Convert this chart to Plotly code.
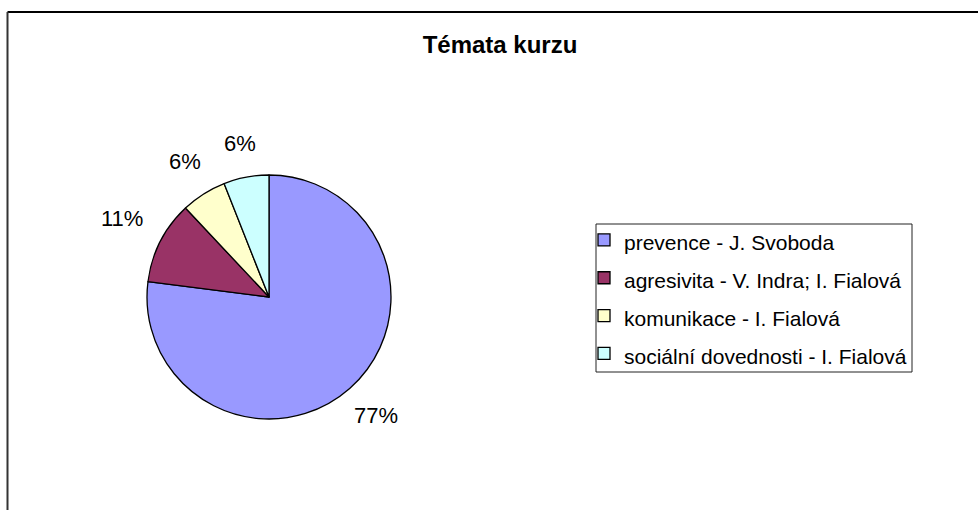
import math
import plotly.graph_objects as go

# Data
categories = [
    "prevence - J. Svoboda",
    "agresivita - V. Indra; I. Fialová",
    "komunikace - I. Fialová",
    "sociální dovednosti - I. Fialová",
]
values = [77, 11, 6, 6]
colors = ["#9999FF", "#993366", "#FFFFCC", "#CCFFFF"]
title_text = "Témata kurzu"

W, H = 978, 510
FONT = "Liberation Sans, Arial, sans-serif"

# pie geometry (pixels)
CX, CY, R = 269, 297, 122
LABEL_FS = 22
GAP = 20

legend_labels = ['<span style="font-size:21px">%s</span>' % c for c in categories]

fig = go.Figure(
    go.Pie(
        labels=legend_labels,
        values=values,
        sort=False,
        direction="clockwise",
        rotation=0,
        marker=dict(colors=colors, line=dict(color="black", width=1.3)),
        textinfo="none",
        domain=dict(x=[(CX - R) / W, (CX + R) / W], y=[1 - (CY + R) / H, 1 - (CY - R) / H]),
        hoverinfo="label+percent",
    )
)

# percentage labels placed outside each slice, derived from the values
total = sum(values)
annotations = []
cum = 0.0
for v in values:
    mid = (cum + v / 2.0) / total * 2 * math.pi
    cum += v
    pct = "%d%%" % round(100.0 * v / total)
    sx, sy = math.sin(mid), -math.cos(mid)
    w = LABEL_FS * (0.556 * (len(pct) - 1) + 0.889)
    h = LABEL_FS * 0.72
    dist = R + GAP + abs(sx) * w / 2 + abs(sy) * h / 2
    px, py = CX + dist * sx, CY + dist * sy - 3
    annotations.append(dict(
        x=px / W, y=1 - py / H, xref="paper", yref="paper",
        text=pct, showarrow=False, xanchor="center", yanchor="middle",
        font=dict(family=FONT, size=LABEL_FS, color="black"),
    ))

fig.update_layout(
    width=W,
    height=H,
    margin=dict(l=0, r=0, t=0, b=0),
    paper_bgcolor="white",
    plot_bgcolor="white",
    font=dict(family=FONT, color="black"),
    title=dict(
        text="<b>%s</b>" % title_text,
        x=500 / W,
        xanchor="center",
        y=1 - 45 / H,
        yanchor="middle",
        font=dict(family=FONT, size=24, color="black"),
    ),
    showlegend=True,
    legend=dict(
        x=584 / W,
        y=1 - 216 / H,
        xanchor="left",
        yanchor="top",
        borderwidth=0,
        bgcolor="rgba(0,0,0,0)",
        font=dict(family=FONT, size=26.8, color="black"),
        traceorder="normal",
    ),
    annotations=annotations,
    shapes=[
        # chart frame
        dict(type="line", xref="paper", yref="paper",
             x0=7.5 / W, x1=1.05, y0=1 - 12 / H, y1=1 - 12 / H,
             line=dict(color="black", width=2)),
        dict(type="line", xref="paper", yref="paper",
             x0=7.5 / W, x1=7.5 / W, y0=1 - 12 / H, y1=-0.05,
             line=dict(color="#333333", width=2)),
        # legend box
        dict(type="rect", xref="paper", yref="paper",
             x0=596 / W, x1=912 / W, y0=1 - 372 / H, y1=1 - 224 / H,
             line=dict(color="#222222", width=1), layer="below"),
    ],
)

fig.write_html(
    "out.html",
    config={"displayModeBar": False},
    post_script="document.body.style.margin='0px';",
)
